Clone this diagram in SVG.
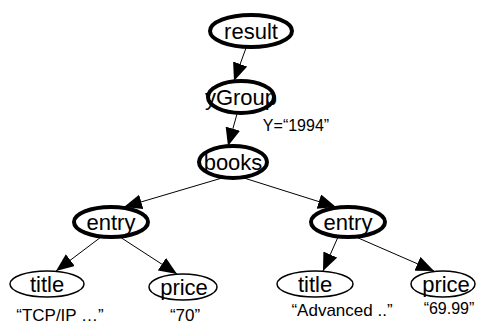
<svg xmlns="http://www.w3.org/2000/svg" width="477" height="324" viewBox="0 0 477 324">
<style>
.thick{fill:#fff;stroke:#000;stroke-width:4}
.thin{fill:#fff;stroke:#000;stroke-width:1.5}
.lbl{font-family:"Liberation Sans",Arial,sans-serif;font-size:22px;text-anchor:middle;fill:#000}
.val{font-family:"Liberation Sans",Arial,sans-serif;font-size:17px;text-anchor:middle;fill:#000}
.edge{stroke:#000;stroke-width:1;fill:none;marker-end:url(#ah)}
</style>
<defs>
<marker id="ah" markerUnits="userSpaceOnUse" markerWidth="19" markerHeight="15" refX="18" refY="7.5" orient="auto">
<path d="M0,0 L18,7.5 L0,15 z" fill="#000"/>
</marker>
</defs>
<rect width="477" height="324" fill="#fff"/>
<g id="edges">
<line class="edge" x1="246" y1="48" x2="234" y2="81"/>
<line class="edge" x1="237" y1="114" x2="228" y2="146"/>
<line class="edge" x1="222" y1="178" x2="124" y2="207"/>
<line class="edge" x1="244" y1="178" x2="336" y2="207"/>
<line class="edge" x1="101" y1="237" x2="56" y2="271"/>
<line class="edge" x1="120" y1="237" x2="177" y2="274"/>
<line class="edge" x1="338" y1="237" x2="323" y2="271"/>
<line class="edge" x1="356" y1="237" x2="434" y2="271"/>
</g>
<g id="result"><ellipse class="thick" cx="251" cy="31" rx="41" ry="16"/><text class="lbl" x="251" y="39">result</text></g>
<g id="yGroup"><ellipse class="thick" cx="241" cy="97" rx="33" ry="16"/><text class="lbl" x="241" y="105">yGroup</text></g>
<text class="val" x="296" y="131" style="font-size:16px">Y=“1994”</text>
<g id="books"><ellipse class="thick" cx="233" cy="162" rx="34" ry="16"/><text class="lbl" x="233" y="170">books</text></g>
<g id="entry1"><ellipse class="thick" cx="111" cy="222" rx="37" ry="15"/><text class="lbl" x="111" y="230">entry</text></g>
<g id="entry2"><ellipse class="thick" cx="348" cy="222" rx="37" ry="15"/><text class="lbl" x="348" y="230">entry</text></g>
<g id="title1"><ellipse class="thin" cx="47" cy="284" rx="37" ry="13"/><text class="lbl" x="47" y="292">title</text><text class="val" x="60" y="321">“TCP/IP …”</text></g>
<g id="price1"><ellipse class="thin" cx="183" cy="287" rx="34" ry="13"/><text class="lbl" x="184" y="295">price</text><text class="val" x="185" y="321">“70”</text></g>
<g id="title2"><ellipse class="thin" cx="315" cy="284" rx="38" ry="13"/><text class="lbl" x="315" y="292">title</text><text class="val" x="342" y="316">“Advanced ..”</text></g>
<g id="price2"><ellipse class="thin" cx="443" cy="284" rx="32" ry="13"/><text class="lbl" x="446" y="292">price</text><text class="val" x="449" y="314" style="font-size:16px">“69.99”</text></g>
</svg>
